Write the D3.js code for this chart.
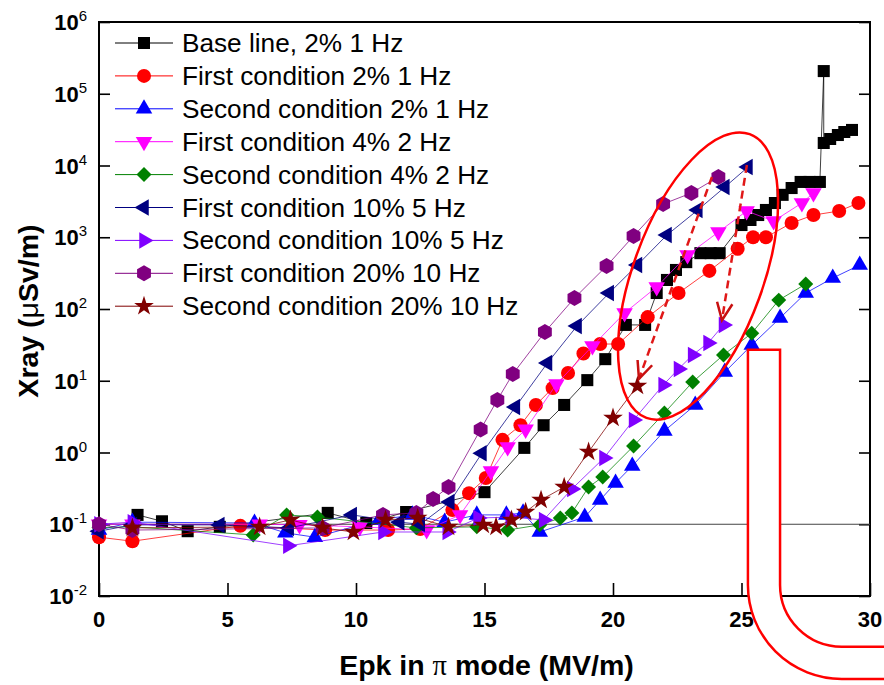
<!DOCTYPE html>
<html>
<head>
<meta charset="utf-8">
<script src="https://cdn.jsdelivr.net/npm/d3@7"></script>
<style>
  body { margin: 0; background: #fff; }
  svg { font-family: Arial, "Liberation Sans", sans-serif; }
</style>
</head>
<body>
<div id="chart"></div>
<script>
// --- data ---
const seriesNames = [
  "Base line, 2% 1 Hz",
  "First condition 2% 1 Hz",
  "Second condition 2% 1 Hz",
  "First condition 4% 2 Hz",
  "Second condition 4% 2 Hz",
  "First condition 10% 5 Hz",
  "Second condition 10% 5 Hz",
  "First condition 20% 10 Hz",
  "Second condition 20% 10 Hz"
];
const seriesColors = ["#000000", "#ff0000", "#0000ff", "#ff00ff", "#008000", "#000080", "#8000ff", "#800080", "#800000"];
const seriesShapes = ["square", "circle", "triUp", "triDown", "diamond", "triLeft", "triRight", "hexagon", "star"];

const baseE = [1.5, 2.45, 3.45, 4.7, 8.9, 10.4, 11.95, 15.0, 16.55, 17.3, 18.1, 19.0, 19.7, 20.5, 21.25, 21.7, 22.1, 22.45, 22.85, 23.4, 23.8, 24.15, 25.0, 25.35, 25.65, 25.95, 26.3, 26.6, 26.95, 27.3, 27.65, 28.05, 28.2, 28.2, 28.45, 28.75, 29.0, 29.3];
const baseV = [0.135, 0.11, 0.08, 0.092, 0.144, 0.104, 0.148, 0.28, 1.16, 2.4, 4.6, 10.2, 20, 60, 60, 167, 254, 350, 450, 600, 600, 600, 1480, 1740, 2040, 2400, 3000, 3900, 4850, 5900, 5900, 5900, 2.07e5, 2.06e4, 2.34e4, 2.66e4, 2.93e4, 3.13e4];

const first2E = [0, 1.3, 5.5, 8.8, 11.25, 12.5, 13.75, 14.4, 15.05, 15.7, 16.4, 17.0, 17.65, 18.25, 18.85, 19.5, 20.2, 21.35, 22.55, 23.75, 24.85, 25.45, 25.95, 26.95, 27.8, 28.8, 29.55];
const first2V = [0.066, 0.058, 0.095, 0.083, 0.083, 0.086, 0.158, 0.27, 0.44, 1.5, 2.4, 4.6, 7.9, 12.8, 24, 32.5, 32.5, 77, 167, 340, 690, 1000, 1000, 1580, 2040, 2320, 3000];

const second2E = [0, 1.3, 6.05, 7.25, 8.4, 10.9, 12.2, 13.45, 14.7, 15.85, 16.5, 17.15, 18.9, 19.5, 20.1, 20.75, 22.0, 23.2, 24.35, 25.4, 26.5, 27.5, 28.55, 29.6];
const second2V = [0.083, 0.107, 0.104, 0.076, 0.066, 0.115, 0.135, 0.107, 0.135, 0.135, 0.144, 0.078, 0.126, 0.218, 0.376, 0.65, 2.0, 4.6, 13.2, 31.5, 75, 167, 270, 410];

const first4E = [0, 1.3, 6.25, 7.8, 10.15, 12.75, 14.05, 15.25, 15.9, 16.6, 17.8, 19.2, 20.45, 21.7, 22.9, 24.1, 25.2, 26.25, 27.35, 27.8];
const first4V = [0.1, 0.1, 0.1, 0.098, 0.092, 0.083, 0.135, 0.55, 1.19, 2.1, 9.0, 30.5, 88, 203, 566, 1180, 2320, 1680, 3000, 4140];

const second4E = [0, 1.3, 6.0, 7.3, 8.5, 12.35, 14.7, 15.9, 17.15, 17.95, 18.4, 19.05, 19.6, 20.8, 22.0, 23.1, 24.3, 25.4, 26.45, 27.5];
const second4V = [0.09, 0.092, 0.071, 0.135, 0.126, 0.089, 0.092, 0.083, 0.098, 0.122, 0.144, 0.33, 0.456, 1.23, 3.56, 9.6, 22.9, 46, 133, 223];

const first10E = [0, 1.3, 4.7, 7.4, 9.85, 11.7, 12.5, 13.65, 14.9, 16.2, 17.45, 18.6, 19.85, 20.95, 22.1, 23.3, 24.35, 25.25];
const first10V = [0.08, 0.098, 0.098, 0.089, 0.135, 0.107, 0.1, 0.204, 0.98, 4.3, 17.7, 58, 167, 410, 1075, 2400, 5000, 9500];

const second10E = [0, 1.3, 7.35, 11.05, 13.55, 14.75, 16.0, 17.3, 18.4, 19.65, 20.8, 21.95, 22.55, 23.1, 23.7, 24.3];
const second10V = [0.1, 0.107, 0.05, 0.078, 0.078, 0.122, 0.126, 0.115, 0.31, 0.84, 2.84, 8.7, 14.6, 22.9, 33.6, 60];

const first20E = [0, 1.3, 8.7, 11.05, 12.35, 13.0, 13.6, 14.85, 15.5, 16.1, 17.35, 18.5, 19.75, 20.8, 21.95, 23.05, 24.1];
const first20V = [0.1, 0.083, 0.089, 0.135, 0.144, 0.225, 0.33, 2.1, 5.4, 12.4, 47.8, 142, 397, 1040, 2900, 4140, 6920];

const second20E = [1.3, 6.25, 7.45, 8.7, 9.9, 11.15, 12.4, 13.6, 14.95, 15.45, 16.05, 16.6, 17.2, 18.1, 19.05, 20.0, 20.95];
const second20V = [0.089, 0.092, 0.115, 0.089, 0.078, 0.115, 0.122, 0.092, 0.098, 0.092, 0.115, 0.148, 0.218, 0.33, 1.02, 3.03, 8.45];

const seriesE = [baseE, first2E, second2E, first4E, second4E, first10E, second10E, first20E, second20E];
const seriesV = [baseV, first2V, second2V, first4V, second4V, first10V, second10V, first20V, second20V];

const xTicks = [0, 5, 10, 15, 20, 25, 30];
const yExponents = [-2, -1, 0, 1, 2, 3, 4, 5, 6];
const refLevel = 0.1;

// annotation anchors, in data units
const ellipseCenter = [23.31, 288];
const arrows = [
  { from: [23.85, 6920], to: [21.01, 10.6] },
  { from: [25.21, 10160], to: [24.24, 70] }
];
const uShape = { leftE: 25.25, rightE: 26.5, topV: 27, cornerE: 28.9, cornerV: 0.0142 };

// --- layout ---
const width = 884, height = 685;
const margin = { top: 22, left: 99, bottom: 89, right: 14 };

const svg = d3.select("#chart").append("svg")
  .attr("width", width)
  .attr("height", height);

const x = d3.scaleLinear().domain([0, 30]).range([margin.left, width - margin.right]);
const y = d3.scaleLog().domain([1e-2, 1e6]).range([height - margin.bottom, margin.top]);

const x0 = x.range()[0], x1 = x.range()[1], yb = y.range()[0], yt = y.range()[1];

// minor y tick values 2..9 per decade
const yMinor = [];
for (let e = -2; e < 6; e++) for (let m = 2; m <= 9; m++) yMinor.push(m * Math.pow(10, e));
const yMajor = yExponents.map(e => Math.pow(10, e));

// axes
const gx = svg.append("g").attr("transform", `translate(0,${yb})`);
gx.call(d3.axisBottom(x).tickValues(d3.range(0, 31, 1)).tickSize(-7).tickFormat(""));
gx.call(d3.axisBottom(x).tickValues(xTicks).tickSize(-13).tickFormat(""));

const gyl = svg.append("g").attr("transform", `translate(${x0},0)`);
gyl.call(d3.axisLeft(y).tickValues(yMinor).tickSize(-6).tickFormat(""));
gyl.call(d3.axisLeft(y).tickValues(yMajor).tickSize(-11).tickFormat(""));

const gyr = svg.append("g").attr("transform", `translate(${x1},0)`);
gyr.call(d3.axisRight(y).tickValues(yMinor).tickSize(-6).tickFormat(""));
gyr.call(d3.axisRight(y).tickValues(yMajor).tickSize(-11).tickFormat(""));

svg.selectAll(".domain").remove();
svg.selectAll(".tick line").attr("stroke", "#000").attr("stroke-width", 1.6);

// frame
svg.append("rect")
  .attr("x", x0).attr("y", yt)
  .attr("width", x1 - x0).attr("height", yb - yt)
  .attr("fill", "none").attr("stroke", "#000").attr("stroke-width", 2);

// tick labels
svg.append("g").selectAll("text").data(xTicks).join("text")
  .attr("x", d => x(d))
  .attr("y", yb + 31)
  .attr("text-anchor", "middle")
  .attr("font-size", 22)
  .attr("font-weight", "bold")
  .text(d => d);

const yl = svg.append("g").selectAll("text").data(yExponents).join("text")
  .attr("x", 87)
  .attr("y", d => y(Math.pow(10, d)) + 8)
  .attr("text-anchor", "end")
  .attr("font-size", 22)
  .attr("font-weight", "bold");
yl.append("tspan").text("10");
yl.append("tspan").attr("dy", -9).attr("font-size", 15).attr("font-weight", "normal").text(d => d);

// axis titles
const xt = svg.append("text")
  .attr("x", (x0 + x1) / 2 + 2)
  .attr("y", 675)
  .attr("text-anchor", "middle")
  .attr("font-size", 28.5)
  .attr("font-weight", "bold");
xt.append("tspan").text("Epk in ");
xt.append("tspan").attr("font-weight", "normal").attr("font-family", "'Liberation Serif', 'Times New Roman', serif").text("π");
xt.append("tspan").text(" mode (MV/m)");

const yt2 = svg.append("text")
  .attr("transform", `translate(38,${(yt + yb) / 2 + 2}) rotate(-90)`)
  .attr("text-anchor", "middle")
  .attr("font-size", 28.5)
  .attr("font-weight", "bold");
yt2.append("tspan").text("Xray (");
yt2.append("tspan").attr("font-weight", "normal").text("μ");
yt2.append("tspan").text("Sv/m)");

// reference line at 0.1
svg.append("line")
  .attr("x1", x0).attr("x2", x1)
  .attr("y1", y(refLevel)).attr("y2", y(refLevel))
  .attr("stroke", "#444").attr("stroke-width", 1);

// markers
function hexPath(r) {
  const pts = d3.range(6).map(i => {
    const a = (Math.PI / 3) * i - Math.PI / 2;
    return [r * Math.cos(a), r * Math.sin(a)];
  });
  return "M" + pts.join("L") + "Z";
}
const shapeDefs = {
  square: { d: d3.symbol(d3.symbolSquare, 145)(), rot: 0 },
  circle: { d: d3.symbol(d3.symbolCircle, 155)(), rot: 0 },
  triUp: { d: d3.symbol(d3.symbolTriangle, 118)(), rot: 0 },
  triDown: { d: d3.symbol(d3.symbolTriangle, 118)(), rot: 180 },
  triLeft: { d: d3.symbol(d3.symbolTriangle, 118)(), rot: -90 },
  triRight: { d: d3.symbol(d3.symbolTriangle, 118)(), rot: 90 },
  diamond: { d: d3.symbol(d3.symbolSquare, 112)(), rot: 45 },
  hexagon: { d: hexPath(8), rot: 0 },
  star: { d: d3.symbol(d3.symbolStar, 120)(), rot: 0 }
};

const line = d3.line().x(d => x(d[0])).y(d => y(d[1]));

seriesNames.forEach((name, i) => {
  const pts = seriesE[i].map((e, k) => [e, seriesV[i][k]]);
  const g = svg.append("g");
  g.append("path")
    .datum(pts)
    .attr("d", line)
    .attr("fill", "none")
    .attr("stroke", seriesColors[i])
    .attr("stroke-width", 1)
    .attr("stroke-opacity", 0.75);
  const s = shapeDefs[seriesShapes[i]];
  g.selectAll("path.m").data(pts).join("path")
    .attr("class", "m")
    .attr("d", s.d)
    .attr("transform", d => `translate(${x(d[0])},${y(d[1])}) rotate(${s.rot})`)
    .attr("fill", seriesColors[i]);
});

// legend
const legend = svg.append("g");
seriesNames.forEach((name, i) => {
  const ly = 43 + i * 32.9;
  legend.append("line")
    .attr("x1", 115).attr("x2", 173)
    .attr("y1", ly).attr("y2", ly)
    .attr("stroke", seriesColors[i]).attr("stroke-width", 1);
  const s = shapeDefs[seriesShapes[i]];
  legend.append("path")
    .attr("d", s.d)
    .attr("transform", `translate(144,${ly}) rotate(${s.rot})`)
    .attr("fill", seriesColors[i]);
  legend.append("text")
    .attr("x", 182).attr("y", ly + 9)
    .attr("font-size", 26.2)
    .text(name);
});

// red annotations
const red = "#ff0000";
const ann = svg.append("g");
const ec = [x(ellipseCenter[0]), y(ellipseCenter[1])];
ann.append("ellipse")
  .attr("cx", 0).attr("cy", 0)
  .attr("rx", 65).attr("ry", 151)
  .attr("transform", `translate(${ec[0]},${ec[1]}) rotate(20)`)
  .attr("fill", "none").attr("stroke", red).attr("stroke-width", 2.5);

arrows.forEach(a => {
  const p0 = [x(a.from[0]), y(a.from[1])];
  const p1 = [x(a.to[0]), y(a.to[1])];
  ann.append("line")
    .attr("x1", p0[0]).attr("y1", p0[1])
    .attr("x2", p1[0]).attr("y2", p1[1])
    .attr("stroke", "#e01818").attr("stroke-width", 2.5)
    .attr("stroke-dasharray", "8,5");
  const ang = Math.atan2(p1[1] - p0[1], p1[0] - p0[0]);
  const len = 19, spread = 0.42;
  const arm = s => [p1[0] - len * Math.cos(ang + s), p1[1] - len * Math.sin(ang + s)];
  ann.append("path")
    .attr("d", "M" + arm(spread) + "L" + p1 + "L" + arm(-spread))
    .attr("fill", "none").attr("stroke", "#c81010").attr("stroke-width", 2.5);
});

const uxl = x(uShape.leftE), uxr = x(uShape.rightE), uyt = y(uShape.topV);
const ucx = x(uShape.cornerE), ucy = y(uShape.cornerV);
const rOut = ucx - uxl, rIn = ucx - uxr;
const uPath = `M${width + 2},${ucy + rOut} L${ucx},${ucy + rOut} A${rOut},${rOut} 0 0 1 ${uxl},${ucy} L${uxl},${uyt} L${uxr},${uyt} L${uxr},${ucy} A${rIn},${rIn} 0 0 0 ${ucx},${ucy + rIn} L${width + 2},${ucy + rIn}`;
ann.append("path")
  .attr("d", uPath)
  .attr("fill", "#fff")
  .attr("stroke", red).attr("stroke-width", 2.5);
</script>
</body>
</html>
